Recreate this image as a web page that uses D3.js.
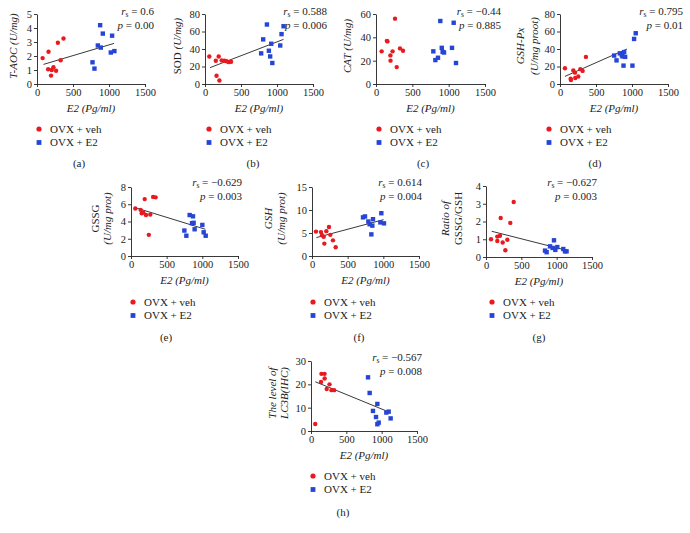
<!DOCTYPE html>
<html><head><meta charset="utf-8">
<script src="https://cdn.jsdelivr.net/npm/d3@7"></script>
<style>
body{margin:0;background:#fff}
text{font-family:"Liberation Serif","Times New Roman",serif;fill:#222}
</style></head>
<body><svg id="c" width="690" height="533"></svg>
<script>
// ---------- data ----------
const xTicks = [0, 500, 1000, 1500];
const xTitle = "E2 (Pg/ml)";
const legendLabels = ["OVX + veh", "OVX + E2"];

// (a) T-AOC
const aVeh = [[78,1.85],[160,2.3],[155,1.05],[195,0.6],[205,1.0],[228,1.2],[265,0.95],[290,2.95],[328,1.7],[368,3.25]];
const aE2  = [[771,1.55],[798,1.1],[845,2.75],[877,4.2],[886,2.6],[914,3.6],[1025,2.25],[1043,3.45],[1075,2.35]];
const aFit = [[90,1.4],[1070,2.9]];
const aYTicks = [0,1,2,3,4,5];
const aStats = ["0.6","0.00"];

// (b) SOD
const bVeh = [[60,31.5],[150,26.5],[160,9.5],[190,31.5],[200,4],[232,27],[270,26.5],[300,26],[330,25],[362,25.5]];
const bE2  = [[780,35],[808,51],[860,68],[887,38],[905,31.5],[920,46],[935,24],[1045,44],[1063,57],[1091,66]];
const bFit = [[70,18.7],[1090,51]];
const bYTicks = [0,20,40,60,80];
const bStats = ["0.588","0.006"];

// (c) CAT
const cVeh = [[78,28],[150,37],[158,36.5],[198,24.5],[200,20],[228,28],[262,56],[285,14.5],[330,30.5],[372,28.5]];
const cE2  = [[789,28],[817,20.5],[853,22.5],[885,54],[905,31],[917,27.5],[936,27],[1046,31],[1069,52.5],[1101,18]];
const cFit = [];
const cYTicks = [0,20,40,60];
const cStats = ["\u22120.44","0.885"];

// (d) GSH-Px
const dVeh = [[69,18],[148,6],[152,4.5],[185,15.5],[208,13],[212,6.8],[254,8.5],[282,17],[314,15],[360,31]];
const dE2  = [[752,32.5],[785,27],[831,35],[858,33],[868,31.5],[882,21],[891,36.5],[905,31],[1006,21],[1029,51.5],[1052,58]];
const dFit = [[69,8.7],[930,40]];
const dYTicks = [0,20,40,60,80];
const dStats = ["0.795","0.01"];

// (e) GSSG
const eVeh = [[60,5.5],[135,5.35],[150,4.95],[172,5.05],[192,6.6],[210,4.75],[250,2.45],[270,4.8],[310,6.85],[345,6.8]];
const eE2  = [[748,2.95],[776,2.35],[822,4.75],[855,3.8],[869,4.6],[878,3.85],[892,3.1],[1000,3.6],[1019,2.75],[1047,2.35]];
const eFit = [[61,5.6],[1042,3.1]];
const eYTicks = [0,2,4,6,8];
const eStats = ["\u22120.629","0.003"];

// (f) GSH
const fVeh = [[56,5.3],[126,5.2],[140,4.5],[164,4.2],[173,2.7],[201,5.4],[238,6.3],[257,4.6],[294,3.4],[332,1.9]];
const fE2  = [[715,8.4],[743,8.6],[790,7.5],[808,6.9],[832,4.7],[846,6.6],[855,8.0],[958,7.3],[972,9.3],[1009,7.1]];
const fFit = [[61,4.0],[1004,7.9]];
const fYTicks = [0,5,10,15];
const fStats = ["0.614","0.004"];

// (g) GSSG/GSH
const gVeh = [[71,1.0],[160,0.9],[160,1.15],[198,1.2],[208,2.2],[236,0.82],[274,0.38],[302,0.97],[344,1.92],[392,3.1]];
const gE2  = [[835,0.36],[858,0.27],[906,0.6],[943,0.51],[962,0.94],[981,0.4],[1009,0.56],[1094,0.45],[1118,0.32],[1140,0.32]];
const gFit = [[80,1.45],[1118,0.4]];
const gYTicks = [0,1,2,3,4];
const gStats = ["\u22120.627","0.003"];

// (h) LC3B
const hVeh = [[60,3],[142,21],[148,24.5],[192,24.5],[193,22.5],[222,18],[262,20],[290,17.5],[328,17.5]];
const hE2  = [[807,23],[830,16.3],[877,8.6],[920,6],[939,11.6],[939,2.9],[958,3.6],[1066,7.9],[1099,8.3],[1127,5.4]];
const hFit = [[61,21.1],[1066,8.6]];
const hYTicks = [0,10,20,30];
const hStats = ["\u22120.567","0.008"];

// ---------- layout ----------
const panels = [
 {veh:aVeh,e2:aE2,fit:aFit,yt:aYTicks,st:aStats,letter:"(a)",L:37,T:14,B:84,W:108,
  ylab:[[["T-AOC (U/mg)",1]]],ylx:[13],sx:154,sy:15,lgx:39,lgy:129,lbx:79,lby:163},
 {veh:bVeh,e2:bE2,fit:bFit,yt:bYTicks,st:bStats,letter:"(b)",L:205,T:14,B:84,W:108,
  ylab:[[["SOD ",0],["(U/mg)",1]]],ylx:[177],sx:327,sy:15,lgx:209,lgy:129,lbx:253,lby:163},
 {veh:cVeh,e2:cE2,fit:cFit,yt:cYTicks,st:cStats,letter:"(c)",L:376,T:14,B:84,W:109,
  ylab:[[["CAT (U/mg)",1]]],ylx:[347],sx:501,sy:15,lgx:379,lgy:129,lbx:423,lby:163},
 {veh:dVeh,e2:dE2,fit:dFit,yt:dYTicks,st:dStats,letter:"(d)",L:560,T:14,B:84,W:108,
  ylab:[[["GSH-Px",1]],[["(U/mg proot)",1]]],ylx:[520,534],sx:683,sy:15,lgx:549,lgy:129,lbx:595,lby:163},
 {veh:eVeh,e2:eE2,fit:eFit,yt:eYTicks,st:eStats,letter:"(e)",L:131,T:187,B:256,W:107,
  ylab:[[["GSSG",0]],[["(U/mg prot)",1]]],ylx:[95,107],sx:242,sy:186,lgx:133,lgy:302,lbx:166,lby:337},
 {veh:fVeh,e2:fE2,fit:fFit,yt:fYTicks,st:fStats,letter:"(f)",L:312,T:187,B:256,W:107,
  ylab:[[["GSH",1]],[["(U/mg prot)",1]]],ylx:[268,281],sx:422,sy:186,lgx:313,lgy:302,lbx:359,lby:337},
 {veh:gVeh,e2:gE2,fit:gFit,yt:gYTicks,st:gStats,letter:"(g)",L:486,T:186,B:257,W:106,
  ylab:[[["Ratio of",1]],[["GSSG/GSH",0]]],ylx:[445,458],sx:597,sy:186,lgx:492,lgy:302,lbx:539,lby:337},
 {veh:hVeh,e2:hE2,fit:hFit,yt:hYTicks,st:hStats,letter:"(h)",L:311,T:361,B:431,W:106,
  ylab:[[["The level of",1]],[["LC3B(IHC)",1]]],ylx:[272,284],sx:422,sy:361,lgx:313,lgy:476,lbx:343,lby:512}
];

const RED = "#e8191f", BLUE = "#2645d6";
const svg = d3.select("#c");
const fmt = d3.format("d");

panels.forEach(p => {
  const x = d3.scaleLinear().domain([0,1500]).range([p.L, p.L + p.W]);
  const yMax = p.yt[p.yt.length-1];
  const y = d3.scaleLinear().domain([0,yMax]).range([p.B, p.T]);
  const g = svg.append("g");

  const xa = g.append("g").attr("transform",`translate(0,${p.B})`)
    .call(d3.axisBottom(x).tickValues(xTicks).tickFormat(fmt).tickSize(3).tickSizeOuter(0).tickPadding(2));
  const ya = g.append("g").attr("transform",`translate(${p.L},0)`)
    .call(d3.axisLeft(y).tickValues(p.yt).tickFormat(fmt).tickSize(3).tickSizeOuter(0).tickPadding(2));
  [xa,ya].forEach(a => {
    a.selectAll("path,line").attr("stroke","#222").attr("stroke-width",0.9);
    a.selectAll("text").style("font-family",'"Liberation Serif",serif').style("font-size","10.5px").attr("fill","#222");
  });

  // x title
  g.append("text").attr("x", p.L + p.W/2).attr("y", p.B + 28).attr("text-anchor","middle")
    .style("font-size","11px").style("font-style","italic").text(xTitle);

  // y title
  const ymid = (p.T + p.B)/2 - 3;
  p.ylab.forEach((line, i) => {
    const t = g.append("text").attr("transform",`translate(${p.ylx[i]+4},${ymid}) rotate(-90)`)
      .attr("text-anchor","middle").style("font-size","11px");
    line.forEach(seg => t.append("tspan").style("font-style", seg[1] ? "italic" : "normal").text(seg[0]));
  });

  // fit line
  if (p.fit.length) {
    g.append("path").datum(p.fit)
      .attr("d", d3.line().x(d => x(d[0])).y(d => y(d[1])))
      .attr("stroke","#222").attr("stroke-width",0.9).attr("fill","none");
  }

  // points
  g.selectAll(".v").data(p.veh).join("circle")
    .attr("cx", d => x(d[0])).attr("cy", d => y(d[1])).attr("r", 2.2).attr("fill", RED);
  g.selectAll(".e").data(p.e2).join("rect")
    .attr("x", d => x(d[0]) - 2.2).attr("y", d => y(d[1]) - 2.2)
    .attr("width", 4.4).attr("height", 4.4).attr("fill", BLUE);

  // stats
  const s1 = g.append("text").attr("x", p.sx).attr("y", p.sy).attr("text-anchor","end").style("font-size","11px");
  s1.append("tspan").style("font-style","italic").text("r");
  s1.append("tspan").attr("dy",2).style("font-size","7.5px").text("s");
  s1.append("tspan").attr("dy",-2).text(" = " + p.st[0]);
  const s2 = g.append("text").attr("x", p.sx).attr("y", p.sy + 13.5).attr("text-anchor","end").style("font-size","11px");
  s2.append("tspan").style("font-style","italic").text("p");
  s2.append("tspan").text(" = " + p.st[1]);

  // legend
  g.append("circle").attr("cx", p.lgx).attr("cy", p.lgy).attr("r", 2.6).attr("fill", RED);
  g.append("rect").attr("x", p.lgx - 2.4).attr("y", p.lgy + 13.5 - 2.4).attr("width", 4.8).attr("height", 4.8).attr("fill", BLUE);
  legendLabels.forEach((lab, i) => {
    g.append("text").attr("x", p.lgx + 11).attr("y", p.lgy + i*13.5 + 3.8).style("font-size","11px").text(lab);
  });

  // panel letter
  g.append("text").attr("x", p.lbx).attr("y", p.lby + 4).attr("text-anchor","middle").style("font-size","11px").text(p.letter);
});
</script>
</body></html>
